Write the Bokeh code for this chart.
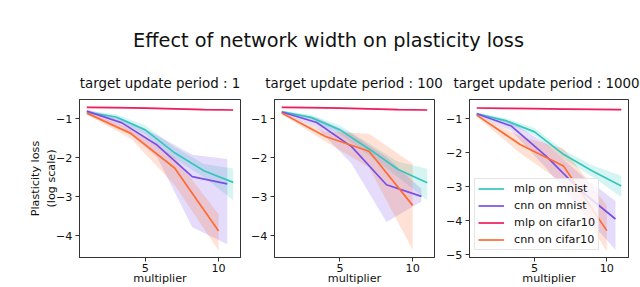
from bokeh.plotting import figure
from bokeh.models import Range1d, FixedTicker, Label
from bokeh.layouts import column, row
from bokeh.embed import file_html
from bokeh.resources import INLINE

FONT = "DejaVu Sans"

main_title = "Effect of network width on plasticity loss"
panel_titles = ["target update period : 1", "target update period : 100", "target update period : 1000"]
series_names = ["mlp on mnist", "cnn on mnist", "mlp on cifar10", "cnn on cifar10"]
series_colors = ["#33c7be", "#7a4ee8", "#ee1d5b", "#ff6b30"]

# multiplier values for each series
x_mlp_mnist = [1, 3, 5, 7, 9, 11]
x_cnn_mnist = [1, 3.4, 5.8, 8.2, 10.6]
x_mlp_cifar = [1, 3, 5, 7, 9, 11]
x_cnn_cifar = [1, 4, 7, 10]

# ---- target update period : 1
p1_mlp_mnist = [-0.83, -0.95, -1.28, -1.87, -2.33, -2.63]
p1_mlp_mnist_hi = [-0.79, -0.88, -1.17, -1.72, -2.16, -2.27]
p1_mlp_mnist_lo = [-0.87, -1.02, -1.39, -2.02, -2.50, -3.09]
p1_cnn_mnist = [-0.80, -1.10, -1.67, -2.48, -2.67]
p1_cnn_mnist_hi = [-0.76, -0.98, -1.42, -1.92, -2.03]
p1_cnn_mnist_lo = [-0.85, -1.22, -1.98, -3.78, -4.22]
p1_mlp_cifar = [-0.70, -0.71, -0.72, -0.74, -0.76, -0.77]
p1_mlp_cifar_hi = [-0.68, -0.69, -0.70, -0.72, -0.74, -0.75]
p1_mlp_cifar_lo = [-0.72, -0.73, -0.74, -0.76, -0.78, -0.79]
p1_cnn_cifar = [-0.85, -1.37, -2.26, -3.88]
p1_cnn_cifar_hi = [-0.82, -1.24, -1.98, -3.45]
p1_cnn_cifar_lo = [-0.89, -1.50, -2.70, -4.38]

# ---- target update period : 100
p2_mlp_mnist = [-0.82, -0.96, -1.28, -1.77, -2.30, -2.64]
p2_mlp_mnist_hi = [-0.78, -0.89, -1.17, -1.63, -2.10, -2.28]
p2_mlp_mnist_lo = [-0.86, -1.03, -1.39, -1.93, -2.50, -3.09]
p2_cnn_mnist = [-0.82, -1.09, -1.71, -2.69, -2.99]
p2_cnn_mnist_hi = [-0.78, -0.97, -1.38, -1.98, -2.80]
p2_cnn_mnist_lo = [-0.86, -1.22, -2.15, -3.65, -3.12]
p2_mlp_cifar = [-0.70, -0.71, -0.72, -0.74, -0.76, -0.77]
p2_mlp_cifar_hi = [-0.68, -0.69, -0.70, -0.72, -0.74, -0.75]
p2_mlp_cifar_lo = [-0.72, -0.73, -0.74, -0.76, -0.78, -0.79]
p2_cnn_cifar = [-0.85, -1.45, -1.83, -3.22]
p2_cnn_cifar_hi = [-0.82, -1.33, -1.38, -2.15]
p2_cnn_cifar_lo = [-0.88, -1.58, -2.25, -4.37]

# ---- target update period : 1000
p3_mlp_mnist = [-0.86, -1.06, -1.39, -2.05, -2.54, -2.98]
p3_mlp_mnist_hi = [-0.82, -0.99, -1.28, -1.92, -2.37, -2.68]
p3_mlp_mnist_lo = [-0.90, -1.13, -1.50, -2.18, -2.71, -3.30]
p3_cnn_mnist = [-0.86, -1.22, -2.10, -3.12, -3.95]
p3_cnn_mnist_hi = [-0.82, -1.10, -1.75, -2.65, -3.42]
p3_cnn_mnist_lo = [-0.90, -1.36, -2.45, -3.72, -4.85]
p3_mlp_cifar = [-0.69, -0.70, -0.71, -0.72, -0.73, -0.74]
p3_mlp_cifar_hi = [-0.67, -0.68, -0.69, -0.70, -0.71, -0.72]
p3_mlp_cifar_lo = [-0.71, -0.72, -0.73, -0.74, -0.75, -0.76]
p3_cnn_cifar = [-0.90, -1.76, -2.39, -4.29]
p3_cnn_cifar_hi = [-0.86, -1.52, -1.88, -3.55]
p3_cnn_cifar_lo = [-0.94, -2.02, -2.90, -4.90]

x_ticks = [5, 10]
y_ticks_12 = [-4, -3, -2, -1]
y_ticks_3 = [-5, -4, -3, -2, -1]
y_range_12 = (-4.56, -0.5)
y_range_3 = (-5.08, -0.44)
x_range = (0.5, 11.5)

xs = [x_mlp_mnist, x_cnn_mnist, x_mlp_cifar, x_cnn_cifar]
panels = [
    [(p1_mlp_mnist, p1_mlp_mnist_lo, p1_mlp_mnist_hi), (p1_cnn_mnist, p1_cnn_mnist_lo, p1_cnn_mnist_hi),
     (p1_mlp_cifar, p1_mlp_cifar_lo, p1_mlp_cifar_hi), (p1_cnn_cifar, p1_cnn_cifar_lo, p1_cnn_cifar_hi)],
    [(p2_mlp_mnist, p2_mlp_mnist_lo, p2_mlp_mnist_hi), (p2_cnn_mnist, p2_cnn_mnist_lo, p2_cnn_mnist_hi),
     (p2_mlp_cifar, p2_mlp_cifar_lo, p2_mlp_cifar_hi), (p2_cnn_cifar, p2_cnn_cifar_lo, p2_cnn_cifar_hi)],
    [(p3_mlp_mnist, p3_mlp_mnist_lo, p3_mlp_mnist_hi), (p3_cnn_mnist, p3_cnn_mnist_lo, p3_cnn_mnist_hi),
     (p3_mlp_cifar, p3_mlp_cifar_lo, p3_mlp_cifar_hi), (p3_cnn_cifar, p3_cnn_cifar_lo, p3_cnn_cifar_hi)],
]

HEADER_H = 98
FIG_H = 189
EDGE = "#333333"
TXT = "#111111"
FS = "11.2px"

widths = [248, 195, 197]
borders = [(79, 8), (25, 9), (25, 12)]
yranges = [y_range_12, y_range_12, y_range_3]
yticks = [y_ticks_12, y_ticks_12, y_ticks_3]

figs = []
for i in range(3):
    p = figure(width=widths[i], height=FIG_H, x_range=Range1d(*x_range), y_range=Range1d(*yranges[i]),
               output_backend="svg", toolbar_location=None,
               min_border_left=borders[i][0], min_border_right=borders[i][1],
               min_border_top=1, min_border_bottom=26)
    p.grid.visible = False
    p.outline_line_color = EDGE
    p.outline_line_width = 1
    p.background_fill_color = "white"
    p.border_fill_color = "white"
    for ax in (p.xaxis[0], p.yaxis[0]):
        ax.axis_line_color = EDGE
        ax.major_tick_line_color = EDGE
        ax.major_tick_out = 4
        ax.major_tick_in = 0
        ax.minor_tick_line_color = None
        ax.major_label_text_font = FONT
        ax.major_label_text_font_size = FS
        ax.major_label_text_color = TXT
        ax.axis_label_text_font = FONT
        ax.axis_label_text_font_size = FS
        ax.axis_label_text_font_style = "normal"
        ax.axis_label_text_color = TXT
    p.xaxis.ticker = FixedTicker(ticks=x_ticks)
    p.xaxis.axis_label = "multiplier"
    p.xaxis.axis_label_standoff = -3
    p.xaxis.major_label_standoff = 2
    p.yaxis.ticker = FixedTicker(ticks=yticks[i])
    p.yaxis.major_label_overrides = {t: "\u2212%d" % abs(t) for t in yticks[i]}
    p.yaxis.major_label_standoff = 3
    if i == 0:
        p.yaxis.axis_label = "Plasticity loss\n(log scale)"
        p.yaxis.axis_label_standoff = -5

    for j in range(4):
        mean, lo, hi = panels[i][j]
        p.varea(x=xs[j], y1=lo, y2=hi, fill_color=series_colors[j], fill_alpha=0.2)
    for j in range(4):
        mean, lo, hi = panels[i][j]
        if i == 2:
            p.line(xs[j], mean, line_color=series_colors[j], line_width=1.7, legend_label=series_names[j])
        else:
            p.line(xs[j], mean, line_color=series_colors[j], line_width=1.7)
    if i == 2:
        lg = p.legend[0]
        lg.location = (5, 7)
        lg.label_text_font = FONT
        lg.label_text_font_size = FS
        lg.label_text_color = TXT
        lg.glyph_width = 26
        lg.glyph_height = 13
        lg.label_height = 13
        lg.spacing = 4
        lg.padding = 3
        lg.label_standoff = 10
        lg.margin = 0
        lg.border_line_color = "#cccccc"
        lg.background_fill_alpha = 0.8
    figs.append(p)

header = figure(width=640, height=HEADER_H, x_range=Range1d(0, 1), y_range=Range1d(0, 1),
                output_backend="svg", toolbar_location=None,
                x_axis_location=None, y_axis_location=None, min_border=0)
header.grid.visible = False
header.outline_line_color = None
header.add_layout(Label(x=328, y=HEADER_H - 40, x_units="screen", y_units="screen", text=main_title,
                        text_font=FONT, text_font_size="19.3px", text_align="center",
                        text_baseline="middle", text_color=TXT))
sub_x = [159.5, 353.5, 546]
for i in range(3):
    header.add_layout(Label(x=sub_x[i], y=HEADER_H - 83, x_units="screen", y_units="screen",
                            text=panel_titles[i], text_font=FONT, text_font_size="13.4px",
                            text_align="center", text_baseline="middle", text_color=TXT))

layout = column(header, row(*figs))
open("out.html", "w").write(file_html(layout, INLINE))
